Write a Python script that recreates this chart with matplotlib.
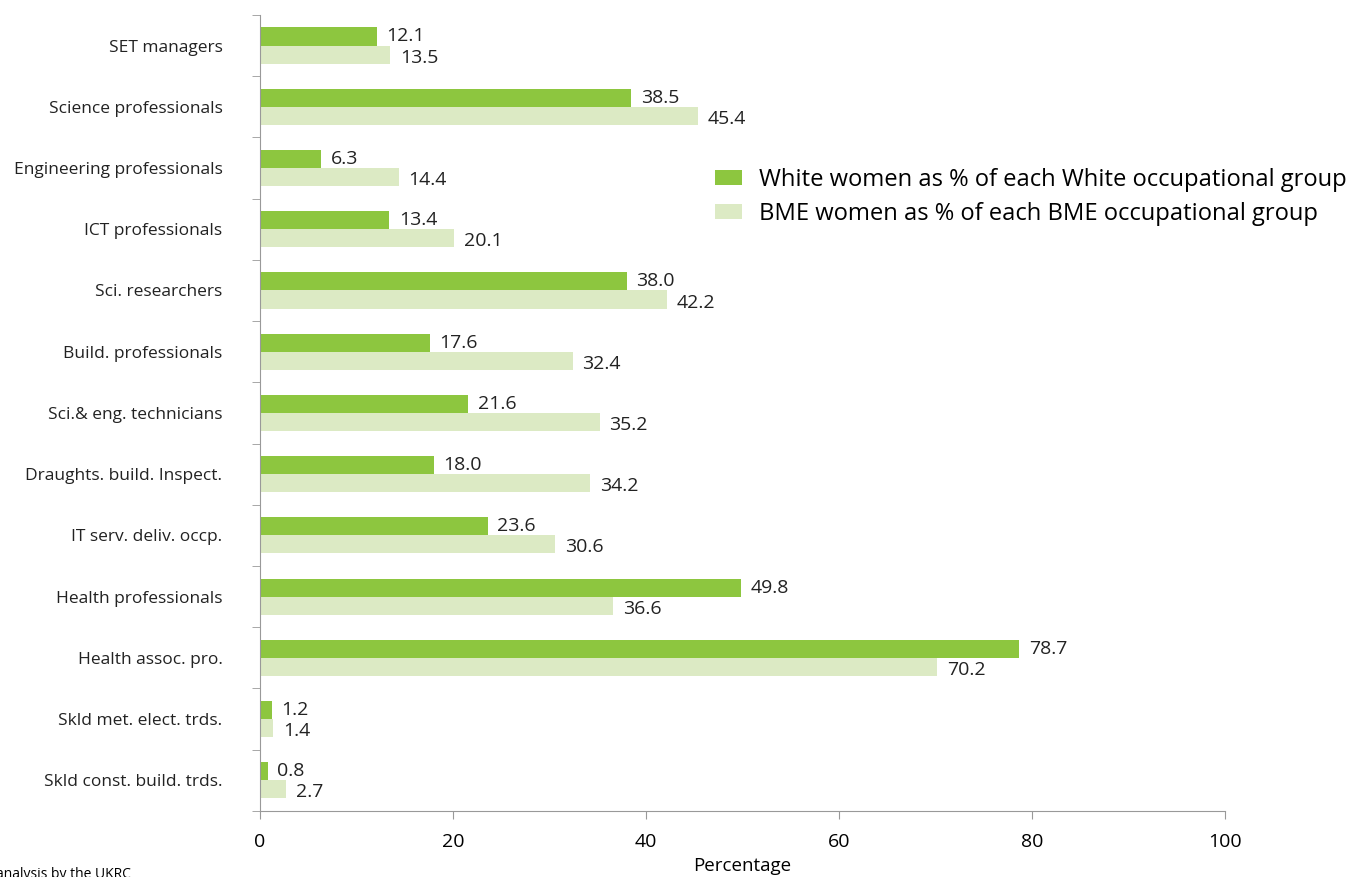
import matplotlib.pyplot as plt
import numpy as np

categories = ['SET managers', 'Science professionals', 'Engineering professionals',
              'ICT professionals', 'Sci. researchers', 'Build. professionals',
              'Sci.& eng. technicians', 'Draughts. build. Inspect.',
              'IT serv. deliv. occp.', 'Health professionals', 'Health assoc. pro.',
              'Skld met. elect. trds.', 'Skld const. build. trds.']
white = [12.1, 38.5, 6.3, 13.4, 38.0, 17.6, 21.6, 18.0, 23.6, 49.8, 78.7, 1.2, 0.8]
bme = [13.5, 45.4, 14.4, 20.1, 42.2, 32.4, 35.2, 34.2, 30.6, 36.6, 70.2, 1.4, 2.7]

plt.rcParams['font.family'] = ['Open Sans', 'DejaVu Sans']
dark = '#8dc63f'
light = '#dceac4'
grey = '#999999'

fig = plt.figure(figsize=(13.52, 8.77), dpi=100)
ax = fig.add_axes([0.1923, 0.0753, 0.7137, 0.9077])

y = np.arange(len(categories))
h = 0.295
ax.barh(y - h / 2, white, height=h, color=dark,
        label='White women as % of each White occupational group')
ax.barh(y + h / 2, bme, height=h, color=light,
        label='BME women as % of each BME occupational group')

# value labels next to each bar
for i in range(len(categories)):
    ax.text(white[i] + 1.0, y[i] - h / 2, f'{white[i]:.1f}', va='center', ha='left',
            fontsize=14, color='#222222')
    ax.text(bme[i] + 1.0, y[i] + h / 2 + 0.05, f'{bme[i]:.1f}', va='center', ha='left',
            fontsize=14, color='#222222')

ax.set_xlim(0, 100)
ax.set_ylim(len(categories) - 0.5, -0.5)
ax.set_xticks([0, 20, 40, 60, 80, 100])
ax.tick_params(axis='x', length=6, color=grey, labelsize=14, pad=10)
ax.set_yticks(y)
ax.set_yticklabels(categories)
ax.tick_params(axis='y', length=0, labelsize=12.5, pad=27)
ax.set_yticks(np.arange(len(categories) + 1) - 0.5, minor=True)
ax.tick_params(axis='y', which='minor', length=6, color=grey)
for lab in ax.get_yticklabels():
    lab.set_color('#222222')
for s in ['top', 'right']:
    ax.spines[s].set_visible(False)
ax.spines['left'].set_color(grey)
ax.spines['bottom'].set_color(grey)
ax.set_xlabel('Percentage', fontsize=13.5, labelpad=4)

ax.legend(loc='upper left', bbox_to_anchor=(0.513, 0.833), bbox_transform=fig.transFigure,
          frameon=False, fontsize=17.1, handlelength=1.15, handleheight=0.55,
          handletextpad=0.72, labelspacing=0.43)

fig.text(-0.003, -0.006, 'analysis by the UKRC', fontsize=10, ha='left', va='bottom')

fig.savefig('out.png', dpi=100)
